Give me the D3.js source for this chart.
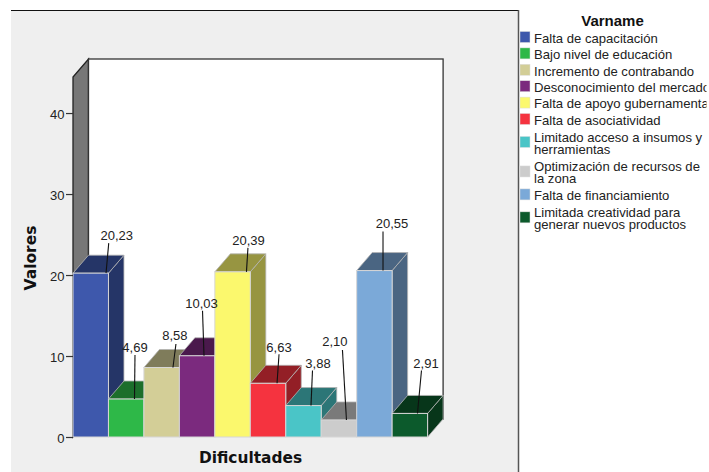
<!DOCTYPE html>
<html>
<head>
<meta charset="utf-8">
<script src="https://cdn.jsdelivr.net/npm/d3@7"></script>
<style>
html, body { margin: 0; background: #fff; overflow: hidden; }
text { font-family: "Liberation Sans", Arial, sans-serif; }
</style>
</head>
<body>
<div id="chart"></div>
<script>
var categories = ["Falta de capacitación", "Bajo nivel de educación", "Incremento de contrabando",
    "Desconocimiento del mercado", "Falta de apoyo gubernamental", "Falta de asociatividad",
    "Limitado acceso a insumos y|herramientas", "Optimización de recursos de|la zona",
    "Falta de financiamiento", "Limitada creatividad para|generar nuevos productos"];
var values = [20.23, 4.69, 8.58, 10.03, 20.39, 6.63, 3.88, 2.10, 20.55, 2.91];
var valueLabels = ["20,23", "4,69", "8,58", "10,03", "20,39", "6,63", "3,88", "2,10", "20,55", "2,91"];
var colors = ["#3e58ac", "#2eb848", "#d3ce97", "#7b2a7e", "#fbf86d", "#f5333f", "#4ac5c7", "#cccccc", "#7ba9d8", "#0c5a2c"];
var yTicks = [0, 10, 20, 30, 40];

// leader line: where it sits on the bar, where it ends, and the label centre from that end
var anchorOffsets = [15.3, 8.3, 11.3, 6.9, 13.9, 9, 7.5, 7.5, 8.6, 7.6];
var leaderEnds = [[2.7, -30], [0.5, -44], [3, -23.5], [-1.5, -45], [1.5, -24], [2, -29], [1.5, -35], [-4, -70], [0, -39], [4, -43]];
var labelShifts = [[8, -8], [0, -7.5], [-1, -8.5], [-1, -7], [0.5, -8], [0, -7.5], [5.5, -7.5], [-7.5, -8.5], [9, -8], [4.5, -7.5]];

var width = 709, height = 472;
var plotLeft = 73, plotRight = 427.6, plotBottom = 437, plotTop = 77;
var depthX = 15.5, depthY = 18;

var svg = d3.select("#chart").append("svg").attr("width", width).attr("height", height).style("display", "block");

// panel
svg.append("rect").attr("x", 11).attr("y", 11).attr("width", 507).attr("height", height - 11).attr("fill", "#efefef");
svg.append("path").attr("d", "M11,10.5H518").attr("stroke", "#111").attr("fill", "none");
svg.append("path").attr("d", "M518.5,10V472").attr("stroke", "#555").attr("stroke-width", 1.5).attr("fill", "none");

var x = d3.scaleBand().domain(d3.range(values.length)).range([plotLeft, plotRight]);
var y = d3.scaleLinear().domain([0, 44.45]).range([plotBottom, plotTop]);

function shade(c) {
    var r = d3.rgb(c);
    return d3.rgb(r.r * 0.6, r.g * 0.6, r.b * 0.6).formatHex();
}

// walls
var yTop = y.range()[1];
svg.append("path")
    .attr("d", "M" + plotLeft + "," + plotBottom + "V" + yTop + "l" + depthX + "," + (-depthY) + "V" + (plotBottom - depthY) + "Z")
    .attr("fill", "#777").attr("stroke", "#222").attr("stroke-width", 1.3);
svg.append("rect")
    .attr("x", plotLeft + depthX).attr("y", yTop - depthY)
    .attr("width", plotRight - plotLeft).attr("height", plotBottom - yTop)
    .attr("fill", "#fff").attr("stroke", "#333").attr("stroke-width", 1.3);

// bars, left to right so each one covers the side of the one before
var bars = svg.selectAll("g.bar").data(values).enter().append("g").attr("class", "bar");
bars.append("path") // side
    .attr("d", function (d, i) {
        var r = x(i) + x.bandwidth();
        return "M" + r + "," + y(0) + "V" + y(d) + "l" + depthX + "," + (-depthY) + "V" + (y(0) - depthY) + "Z";
    })
    .attr("fill", function (d, i) { return shade(colors[i]); });
bars.append("path") // top
    .attr("d", function (d, i) {
        return "M" + x(i) + "," + y(d) + "l" + depthX + "," + (-depthY) + "h" + x.bandwidth() + "l" + (-depthX) + "," + depthY + "Z";
    })
    .attr("fill", function (d, i) { return shade(colors[i]); });
bars.selectAll("path").attr("stroke", "#b4b4b4").attr("stroke-width", 0.8);
bars.append("rect")
    .attr("x", function (d, i) { return x(i); })
    .attr("y", function (d) { return y(d); })
    .attr("width", x.bandwidth())
    .attr("height", function (d) { return y(0) - y(d); })
    .attr("fill", function (d, i) { return colors[i]; })
    .attr("stroke", "#d6d6d6").attr("stroke-width", 1);

// leaders and value labels
var anchorX = function (i) { return x(i) + x.bandwidth() / 2 + anchorOffsets[i]; };
svg.selectAll("line.leader").data(values).enter().append("line")
    .attr("class", "leader")
    .attr("x1", function (d, i) { return anchorX(i); })
    .attr("y1", function (d) { return y(d); })
    .attr("x2", function (d, i) { return anchorX(i) + leaderEnds[i][0]; })
    .attr("y2", function (d, i) { return y(d) + leaderEnds[i][1]; })
    .attr("stroke", "#111").attr("stroke-width", 1.1);
svg.selectAll("text.value").data(values).enter().append("text")
    .attr("class", "value")
    .attr("x", function (d, i) { return anchorX(i) + leaderEnds[i][0] + labelShifts[i][0]; })
    .attr("y", function (d, i) { return y(d) + leaderEnds[i][1] + labelShifts[i][1] + 4.7; })
    .attr("text-anchor", "middle").attr("font-size", 13).attr("fill", "#222")
    .text(function (d, i) { return valueLabels[i]; });

// y axis
var axis = svg.append("g")
    .attr("transform", "translate(" + plotLeft + ",0)")
    .call(d3.axisLeft(y).tickValues(yTicks).tickSize(7).tickPadding(1.5).tickFormat(d3.format("d")));
axis.select(".domain").remove();
axis.selectAll("line").attr("stroke", "#333").attr("stroke-width", 1.2);
axis.selectAll("text").attr("font-size", 13).attr("fill", "#222").attr("dy", "0.42em")
    .style("font-family", '"Liberation Sans", Arial, sans-serif');

// axis titles
svg.append("text").attr("transform", "translate(36,258) rotate(-90)")
    .attr("text-anchor", "middle").attr("font-weight", "bold").attr("font-size", 15.5)
    .style("font-family", '"DejaVu Sans", sans-serif').attr("fill", "#111").text("Valores");
svg.append("text").attr("x", 250.5).attr("y", 463)
    .attr("text-anchor", "middle").attr("font-weight", "bold").attr("font-size", 15.4)
    .style("font-family", '"DejaVu Sans", sans-serif').attr("fill", "#111").text("Dificultades");

// legend
svg.append("text").attr("x", 612.5).attr("y", 26).attr("text-anchor", "middle")
    .attr("font-weight", "bold").attr("font-size", 15).attr("fill", "#111").text("Varname");

var legendY = 28.8;
categories.forEach(function (name, i) {
    var lines = name.split("|");
    var rowH = lines.length > 1 ? 29.5 : 16.4;
    var mid = legendY + rowH / 2;
    legendY += rowH;
    svg.append("rect").attr("x", 520).attr("y", mid - 5.5).attr("width", 10).attr("height", 11)
        .attr("fill", colors[i]).attr("stroke", "#ddd").attr("stroke-width", 0.5);
    lines.forEach(function (line, k) {
        svg.append("text").attr("x", 534)
            .attr("y", mid + 5.8 + (k - (lines.length - 1) / 2) * 12.2)
            .attr("font-size", 13.1).attr("fill", "#222").text(line);
    });
});

// the source picture is cut off just before the window edge
svg.append("rect").attr("x", 706.5).attr("y", 0).attr("width", 3).attr("height", height).attr("fill", "#fff");
</script>
</body>
</html>
